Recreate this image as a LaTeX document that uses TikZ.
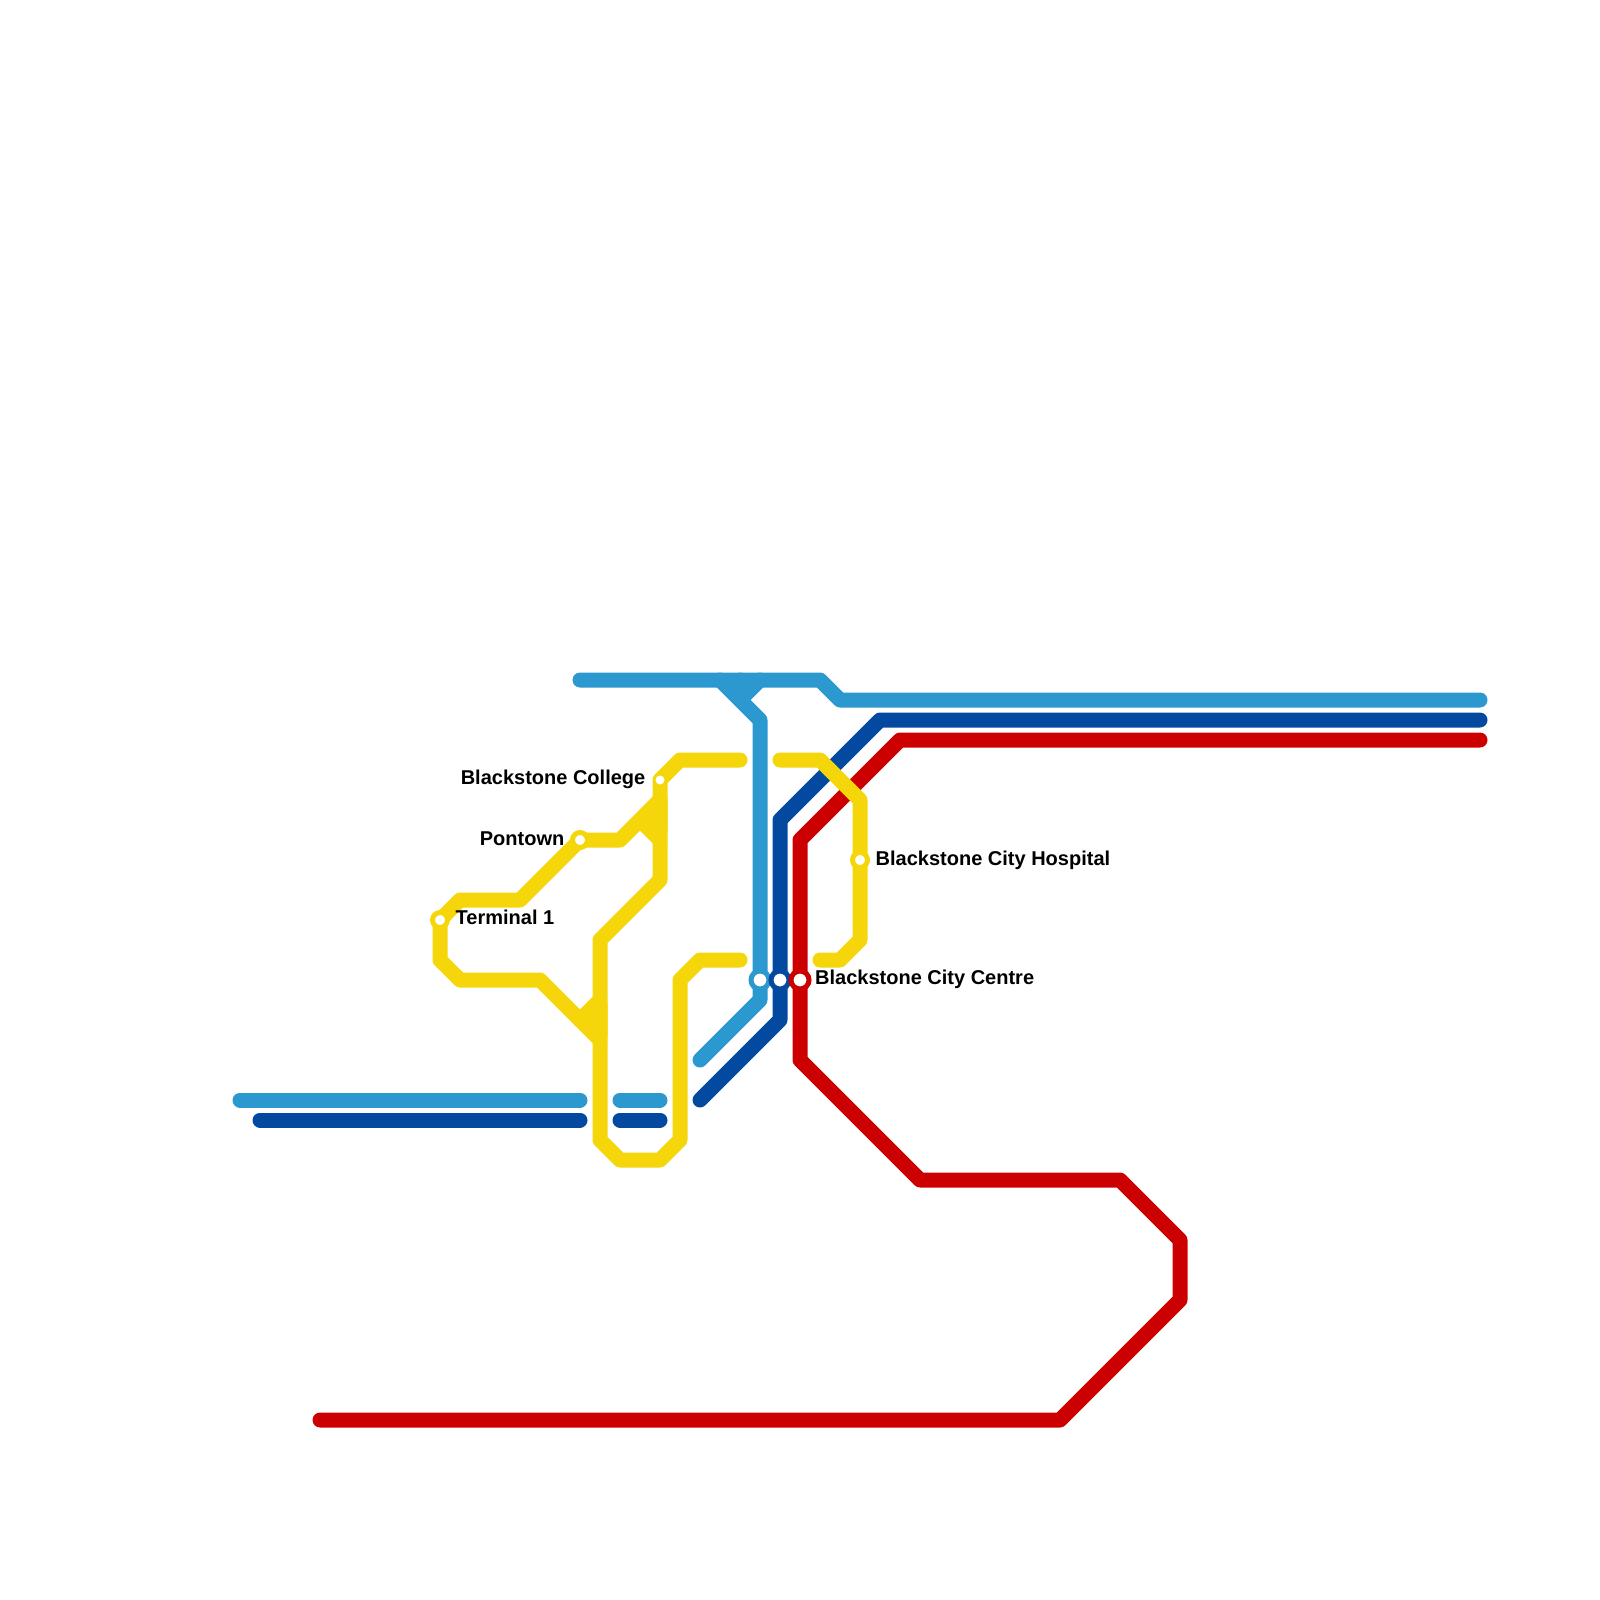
\documentclass[tikz,border=0pt]{standalone}
\usepackage{fontspec}
\setmainfont{Liberation Sans}
\usetikzlibrary{positioning,backgrounds}
\definecolor{lightline}{RGB}{44,152,208}
\definecolor{darkline}{RGB}{4,73,160}
\definecolor{redline}{RGB}{204,0,0}
\definecolor{yellowline}{RGB}{245,214,10}
\tikzset{
  route/.style={line width=15pt, line cap=round, line join=round, draw=#1},
  stn/.style={circle, draw=#1, fill=white, line width=5pt, minimum size=15pt, inner sep=0pt, outer sep=0pt},
  bigstn/.style={stn=#1, minimum size=18pt},
  smallstn/.style={circle, fill=white, minimum size=9pt, inner sep=0pt, outer sep=0pt},
  stnlabel/.style={font=\fontsize{20}{22}\selectfont\bfseries, inner sep=0pt, text=black}
}

\begin{document}
\begin{tikzpicture}[x=1pt, y=-1pt, node distance=8pt]
  \useasboundingbox (0,0) rectangle (1600,1600);

  % stations
  \node[bigstn=lightline] (centreA) at (760,980) {};
  \node[bigstn=darkline] (centreB) at (780,980) {};
  \node[bigstn=redline] (centreC) at (800,980) {};
  \node[stn=yellowline] (hospital) at (860,860) {};
  \node[stn=yellowline] (pontown) at (580,840) {};
  \node[stn=yellowline] (terminal) at (440,920) {};
  \node[smallstn] (college) at (660,780) {};

  \node[stnlabel, right=6pt of centreC, yshift=1pt] (centrelabel) {Blackstone City Centre};
  \node[stnlabel, right=of hospital] (hospitallabel) {Blackstone City Hospital};
  \node[stnlabel, left=of pontown, yshift=1pt] (pontownlabel) {Pontown};
  \node[stnlabel, right=of terminal, yshift=2.5pt] (terminallabel) {Terminal 1};
  \node[stnlabel, left=10pt of college, yshift=1pt] (collegelabel) {Blackstone College};

  % loose ends
  \coordinate (lightE) at (1480,700);
  \coordinate (lightW) at (580,680);
  \coordinate (lightS) at (700,1060);
  \coordinate (darkE) at (1480,720);
  \coordinate (darkS) at (700,1100);
  \coordinate (redE) at (1480,740);
  \coordinate (redW) at (320,1420);
  \coordinate (yellowA) at (740,760);
  \coordinate (yellowB) at (740,960);
  \coordinate (yellowC) at (780,760);
  \coordinate (yellowD) at (820,960);

  \begin{pgfonlayer}{background}
    \draw[route=lightline] (lightW) -- (820,680) -- (840,700) -- (lightE);
    \draw[route=lightline] (720,680) -- (760,720) -- (centreA.center) -- (760,1000) -- (lightS);
    \draw[route=lightline] (760,680) -- (740,700);
    \draw[route=lightline] (740,680) -- (740,700);
    \draw[route=lightline] (240,1100) -- (580,1100);
    \draw[route=lightline] (620,1100) -- (660,1100);

    \draw[route=darkline] (darkE) -- (880,720) -- (780,820) -- (centreB.center) -- (780,1020) -- (darkS);
    \draw[route=darkline] (260,1120) -- (580,1120);
    \draw[route=darkline] (620,1120) -- (660,1120);

    \draw[route=redline] (redE) -- (900,740) -- (800,840) -- (centreC.center) -- (800,1060) -- (920,1180) -- (1120,1180) -- (1180,1240) -- (1180,1300) -- (1060,1420) -- (redW);

    \draw[route=yellowline] (yellowA) -- (680,760) -- (college.center) -- (660,880) -- (600,940) -- (600,1140) -- (620,1160) -- (660,1160) -- (680,1140) -- (680,980) -- (700,960) -- (yellowB);
    \draw[route=yellowline] (terminal.center) -- (460,900) -- (520,900) -- (pontown.center) -- (620,840) -- (660,800);
    \draw[route=yellowline] (640,820) -- (660,840);
    \draw[route=yellowline, fill=yellowline] (645,815) -- (660,800) -- (660,830) -- cycle;
    \draw[route=yellowline] (terminal.center) -- (440,960) -- (460,980) -- (540,980) -- (600,1040);
    \draw[route=yellowline] (580,1020) -- (600,1000);
    \draw[route=yellowline, fill=yellowline] (585,1020) -- (600,1005) -- (600,1035) -- cycle;
    \draw[route=yellowline] (yellowC) -- (820,760) -- (860,800) -- (hospital.center) -- (860,940) -- (840,960) -- (yellowD);
  \end{pgfonlayer}
\end{tikzpicture}
\end{document}
